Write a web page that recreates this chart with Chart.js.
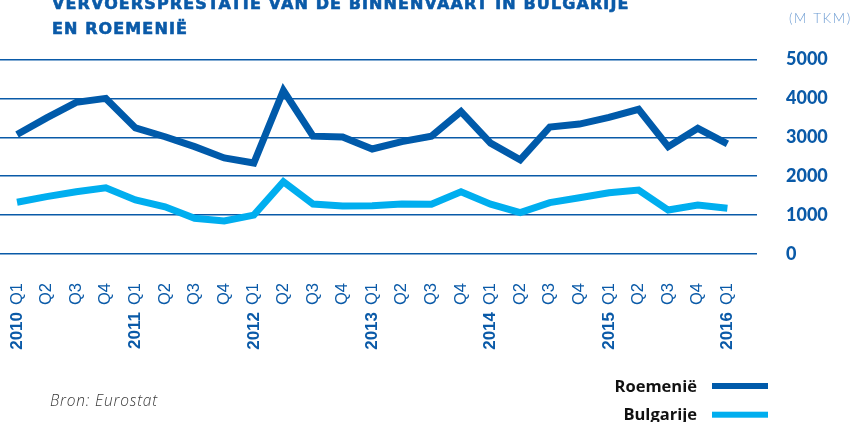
<!DOCTYPE html>
<html>
<head>
<meta charset="utf-8">
<script src="https://cdn.jsdelivr.net/npm/chart.js@4.4.1/dist/chart.umd.min.js"></script>
<style>
html,body{margin:0;padding:0;background:#ffffff;}
#wrap{position:relative;width:851px;height:422px;overflow:hidden;}
canvas{position:absolute;left:0;top:0;}
</style>
</head>
<body>
<div id="wrap"><canvas id="c" width="851" height="422"></canvas></div>
<script>
// ---- data ----
const years = ['2010','','','','2011','','','','2012','','','','2013','','','','2014','','','','2015','','','','2016'];
const quarters = ['Q1','Q2','Q3','Q4','Q1','Q2','Q3','Q4','Q1','Q2','Q3','Q4','Q1','Q2','Q3','Q4','Q1','Q2','Q3','Q4','Q1','Q2','Q3','Q4','Q1'];
const roemenie = [3070,3500,3900,4000,3240,3015,2760,2470,2340,4200,3030,3010,2700,2890,3030,3660,2850,2420,3265,3340,3510,3720,2760,3230,2830];
const bulgarije = [1330,1475,1600,1700,1390,1215,920,850,1000,1860,1285,1235,1240,1285,1280,1600,1280,1065,1320,1445,1575,1645,1130,1260,1175];
const yTicks = [0,1000,2000,3000,4000,5000];
const seriesNames = ['Roemenië','Bulgarije'];
const titleLines = ['VERVOERSPRESTATIE VAN DE BINNENVAART IN BULGARIJE','EN ROEMENIË'];
const unitLabel = '(M TKM)';
const sourceLabel = 'Bron: Eurostat';

const DARK = '#005aaa';
const CYAN = '#00aeef';
const AXIS = '#0a5aa8';

const decor = {
  id: 'decor',
  afterDraw(chart) {
    const ctx = chart.ctx;
    const xs = chart.scales.x;
    ctx.save();
    // title
    ctx.fillStyle = AXIS;
    ctx.strokeStyle = AXIS;
    ctx.lineWidth = 0.6;
    ctx.textAlign = 'left';
    ctx.textBaseline = 'alphabetic';
    ctx.font = 'bold 16px "DejaVu Sans"';
    ctx.letterSpacing = '1.1px';
    ctx.fillText(titleLines[0], 52, 8.5);
    ctx.strokeText(titleLines[0], 52, 8.5);
    ctx.fillText(titleLines[1], 52, 33.5);
    ctx.strokeText(titleLines[1], 52, 33.5);
    // unit
    ctx.fillStyle = '#6b9bd2';
    ctx.font = '300 13.5px Lato';
    ctx.letterSpacing = '1.6px';
    ctx.fillText(unitLabel, 789, 22.7);
    // source
    ctx.fillStyle = '#3a3a3a';
    ctx.font = 'italic 300 15.5px "Open Sans"';
    ctx.letterSpacing = '0.8px';
    ctx.fillText(sourceLabel, 50, 406);
    // legend
    ctx.letterSpacing = '0px';
    ctx.fillStyle = '#111111';
    ctx.font = 'bold 16.5px "Open Sans"';
    ctx.textAlign = 'right';
    const ds = chart.data.datasets;
    ctx.fillText(ds[0].label, 697, 392);
    ctx.fillText(ds[1].label, 697, 420);
    ctx.fillStyle = ds[0].borderColor;
    ctx.fillRect(712, 383, 56, 6);
    ctx.fillStyle = ds[1].borderColor;
    ctx.fillRect(712, 411.7, 56, 6);
    // x labels
    ctx.fillStyle = AXIS;
    for (let i = 0; i < quarters.length; i++) {
      const x = xs.getPixelForValue(i);
      ctx.save();
      ctx.translate(x, 283);
      ctx.rotate(-Math.PI / 2);
      ctx.textAlign = 'right';
      ctx.textBaseline = 'middle';
      ctx.font = '16.5px "Liberation Sans"';
      ctx.fillText(quarters[i], 0, 0);
      if (years[i]) {
        const w = ctx.measureText(quarters[i]).width;
        ctx.font = 'bold 17px "Liberation Sans"';
        ctx.fillText(years[i], -(w + 7), 0);
      }
      ctx.restore();
    }
    ctx.restore();
  }
};

new Chart(document.getElementById('c'), {
  type: 'line',
  data: {
    datasets: [
      { label: seriesNames[0], data: roemenie.map((v, i) => ({ x: i, y: v })), borderColor: DARK, borderWidth: 7,
        pointRadius: 0, tension: 0, borderJoinStyle: 'miter', borderCapStyle: 'butt', clip: false, fill: false },
      { label: seriesNames[1], data: bulgarije.map((v, i) => ({ x: i, y: v })), borderColor: CYAN, borderWidth: 7,
        pointRadius: 0, tension: 0, borderJoinStyle: 'miter', borderCapStyle: 'butt', clip: false, fill: false }
    ]
  },
  options: {
    responsive: false,
    animation: false,
    layout: { padding: { top: 59.5, bottom: 168, left: 0, right: 0 } },
    plugins: { legend: { display: false }, tooltip: { enabled: false } },
    scales: {
      x: { type: 'linear', display: false, min: -0.575, max: 25 },
      y: {
        position: 'right', min: 0, max: 5000, z: 1,
        afterBuildTicks(s) { s.ticks = yTicks.map(v => ({ value: v })); },
        afterFit(s) { s.width = 94; },
        ticks: { padding: 29, color: AXIS, font: { family: 'Lato', weight: '900', size: 18 },
                 callback: v => String(v) },
        grid: { color: AXIS, lineWidth: 1.5, drawTicks: false },
        border: { display: false }
      }
    }
  },
  plugins: [decor]
});
</script>
</body>
</html>
